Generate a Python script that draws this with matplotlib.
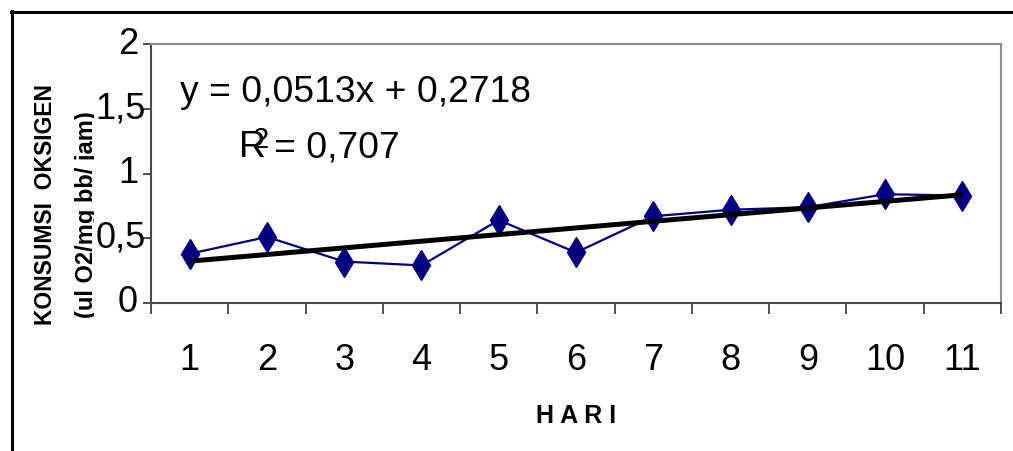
import matplotlib
matplotlib.use("Agg")
import matplotlib.pyplot as plt
from matplotlib.lines import Line2D
from matplotlib.transforms import Bbox, TransformedBbox

plt.rcParams['font.family'] = ['Liberation Sans', 'DejaVu Sans']

# Oxygen consumption per day
hari = [1, 2, 3, 4, 5, 6, 7, 8, 9, 10, 11]
konsumsi = [0.38, 0.51, 0.32, 0.29, 0.64, 0.39, 0.67, 0.72, 0.74, 0.84, 0.83]
x_labels = ['1', '2', '3', '4', '5', '6', '7', '8', '9', '10', '11']
y_ticks = [0, 0.5, 1, 1.5, 2]
y_labels = ['0', '0,5', '1', '1,5', '2']

# Linear trend line
slope = 0.0513
intercept = 0.2718
r_squared = 0.707

W, H = 1013, 451
fig = plt.figure(figsize=(W / 100, H / 100), dpi=100)
fig.patch.set_facecolor('white')


def fx(px):
    return px / W


def fy(py):
    return 1 - py / H


ax = fig.add_axes([fx(151), fy(303), fx(1001) - fx(151), fy(44) - fy(303)])
ax.set_xlim(0.5, 11.5)
ax.set_ylim(0, 2)

# series
ax.plot(hari, konsumsi, color='#000080', lw=1.6, marker='d', markersize=15.5,
        markerfacecolor='#000080', markeredgecolor='#000080', zorder=3, clip_on=False)
# trend
tx = [hari[0], hari[-1]]
ty = [slope * v + intercept for v in tx]
ax.plot(tx, ty, color='black', lw=3.6, solid_capstyle='butt', zorder=4)

# spines
for s in ['left', 'bottom']:
    ax.spines[s].set_color('#4a4a4a')
    ax.spines[s].set_linewidth(1.5)
for s in ['top', 'right']:
    ax.spines[s].set_color('#8c8c8c')
    ax.spines[s].set_linewidth(1.5)

# x axis: ticks between categories, labels at category centres
ax.set_xticks([i + 0.5 for i in range(0, 12)])
ax.set_xticklabels([])
ax.tick_params(axis='x', which='major', length=8, width=1.1, color='#222222', direction='out')
ax.set_xticks(hari, minor=True)
ax.set_xticklabels(x_labels, minor=True, fontsize=26)
ax.tick_params(axis='x', which='minor', length=0, pad=29)

# y axis ticks, labels drawn as text
ax.set_yticks(y_ticks)
ax.set_yticklabels([])
ax.tick_params(axis='y', length=6, width=1.1, color='#222222', direction='out')
ytr = ax.get_yaxis_transform()
for v, lab in zip(y_ticks, y_labels):
    right_px = 146 if ',' in lab else 138
    xa = (right_px - 151) / (1001 - 151)
    ax.text(xa, v, lab, transform=ytr, ha='right', va='center', fontsize=26,
            clip_on=False)

# equation annotation
fig.text(fx(180), fy(102), 'y = 0,0513x + 0,2718', fontsize=26.8, va='baseline', ha='left')
fig.text(fx(239), fy(157), 'R', fontsize=26.8, va='baseline', ha='left')
fig.text(fx(252), fy(148), '2', fontsize=21, va='baseline', ha='left')
fig.text(fx(274), fy(157), '= 0,707', fontsize=26.8, va='baseline', ha='left')

# axis titles
fig.text(fx(52), fy(205), 'KONSUMSI  OKSIGEN', fontsize=16.5, fontweight='bold',
         rotation=90, rotation_mode='anchor', ha='center', va='baseline')
t2 = fig.text(fx(93), fy(215), '(ul O2/mg bb/ jam)', fontsize=17, fontweight='bold',
              rotation=90, rotation_mode='anchor', ha='center', va='baseline')
t2.set_clip_box(TransformedBbox(Bbox([[0, 0], [fx(94), 1]]), fig.transFigure))
t2.set_clip_on(True)

fig.text(fx(576), fy(423), 'H A R I', fontsize=18, fontweight='bold', ha='center', va='baseline')

# outer frame (top and left edges)
fig.add_artist(Line2D([fx(11), 1], [fy(11.5), fy(11.5)], color='black', lw=2.2,
                      transform=fig.transFigure))
fig.add_artist(Line2D([fx(11.5), fx(11.5)], [fy(10.5), 0], color='black', lw=2.2,
                      transform=fig.transFigure))

fig.savefig('out.png', dpi=100, facecolor='white')
